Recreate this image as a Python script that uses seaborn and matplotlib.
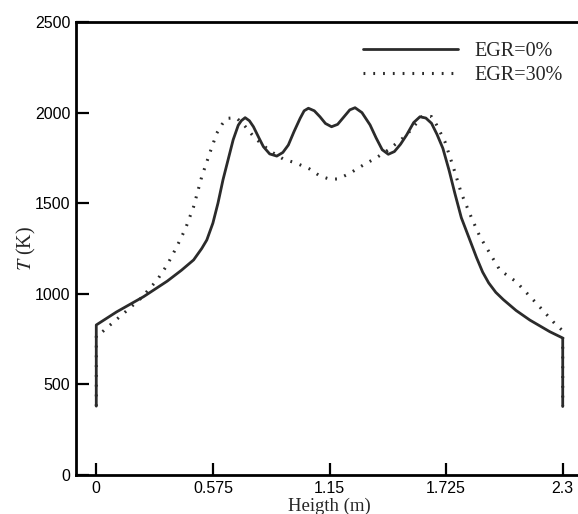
import matplotlib
matplotlib.use("Agg")
import matplotlib.pyplot as plt
import seaborn as sns
import pandas as pd

# EGR = 0 % (solid)
x_egr0 = [0, 0, 0.1, 0.233, 0.35, 0.42, 0.48, 0.52, 0.545, 0.575, 0.60,
          0.625, 0.65, 0.675, 0.70, 0.715, 0.734, 0.755, 0.775, 0.80, 0.824, 0.855,
          0.89, 0.92, 0.947, 0.975, 1.005, 1.025, 1.046, 1.075, 1.103, 1.13,
          1.16, 1.19, 1.22, 1.25, 1.276, 1.31, 1.35, 1.38, 1.41, 1.44, 1.47,
          1.50, 1.53, 1.565, 1.596, 1.625, 1.653, 1.68, 1.709, 1.74, 1.768,
          1.80, 1.842, 1.875, 1.905, 1.935, 1.97, 2.007, 2.07, 2.138, 2.236, 2.3, 2.3]
t_egr0 = [380, 828, 900, 984, 1070, 1130, 1187, 1250, 1297, 1390, 1500,
          1630, 1740, 1850, 1930, 1955, 1972, 1955, 1922, 1865, 1812, 1772,
          1760, 1780, 1821, 1895, 1968, 2010, 2024, 2010, 1977, 1940,
          1922, 1935, 1975, 2015, 2027, 2000, 1932, 1860, 1795, 1770, 1785,
          1825, 1876, 1945, 1977, 1970, 1941, 1880, 1803, 1680, 1555,
          1420, 1297, 1200, 1120, 1060, 1008, 968, 908, 855, 791, 756, 378]

# EGR = 30 % (dotted)
x_egr30 = [0, 0, 0.03, 0.06, 0.135, 0.22, 0.3, 0.35, 0.397, 0.44, 0.48, 0.52,
           0.562, 0.594, 0.62, 0.644, 0.69, 0.726, 0.783, 0.857, 0.92, 0.988,
           1.05, 1.103, 1.153, 1.193, 1.25, 1.317, 1.38, 1.44, 1.53, 1.61,
           1.653, 1.678, 1.719, 1.76, 1.80, 1.85, 1.892, 1.99, 2.07, 2.17,
           2.26, 2.3, 2.3]
t_egr30 = [380, 772, 790, 820, 892, 975, 1076, 1160, 1260, 1360, 1481, 1646,
           1784, 1886, 1935, 1968, 1972, 1935, 1858, 1788, 1745, 1720,
           1690, 1650, 1632, 1634, 1665, 1711, 1750, 1794, 1876, 1983,
           1978, 1932, 1840, 1701, 1555, 1420, 1315, 1131, 1067, 948,
           837, 796, 380]

x_ticks = [0, 0.575, 1.15, 1.725, 2.3]
x_tick_labels = ["0", "0.575", "1.15", "1.725", "2.3"]
y_ticks = [0, 500, 1000, 1500, 2000, 2500]
series_labels = ["EGR=0%", "EGR=30%"]

sns.set_theme(style="ticks")
plt.rcParams["font.family"] = ["Liberation Sans", "DejaVu Sans"]
plt.rcParams["mathtext.fontset"] = "stix"

fig = plt.figure(figsize=(5.78, 5.14), dpi=100)
ax = fig.add_axes([76 / 578, 39 / 514, 507 / 578, 453 / 514])

df0 = pd.DataFrame({"x": x_egr0, "T": t_egr0})
df30 = pd.DataFrame({"x": x_egr30, "T": t_egr30})

sns.lineplot(data=df0, x="x", y="T", sort=False, estimator=None, ax=ax,
             color="#2b2b2b", linewidth=2.0, label=series_labels[0])
sns.lineplot(data=df30, x="x", y="T", sort=False, estimator=None, ax=ax,
             color="#2b2b2b", linewidth=2.2, linestyle=(0, (0.6, 2.6)),
             label=series_labels[1])

ax.set_xlim(-0.1, 2.4)
ax.set_ylim(0, 2500)
ax.set_xticks(x_ticks)
ax.set_xticklabels(x_tick_labels)
ax.set_yticks(y_ticks)
ax.tick_params(direction="in", length=9, width=1.6, labelsize=11.5,
               colors="black", pad=4)
for s in ax.spines.values():
    s.set_linewidth(2.0)
    s.set_color("black")

ax.set_xlabel("Heigth (m)", family="Liberation Serif", fontsize=13.5, labelpad=1.5)
ax.set_ylabel(r"$T$ (K)", family="Liberation Serif", fontsize=14.5, labelpad=-2)

leg = ax.legend(loc="upper right", bbox_to_anchor=(0.995, 0.997), frameon=False,
                handlelength=4.7, prop={"family": "Liberation Serif", "size": 14.5},
                labelspacing=0.25, handletextpad=0.8)

fig.savefig("out.png", dpi=100)
